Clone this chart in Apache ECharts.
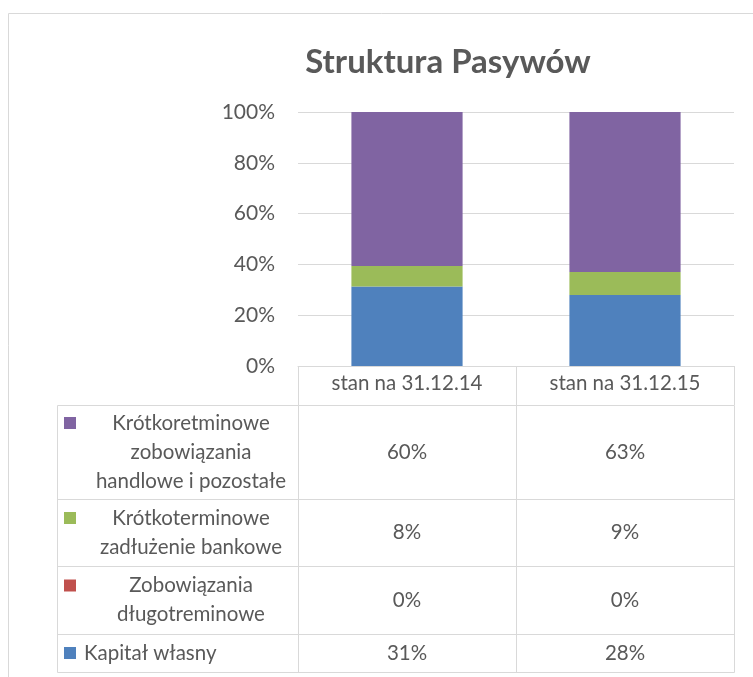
<!DOCTYPE html>
<html>
<head>
<meta charset="utf-8">
<script src="https://cdn.jsdelivr.net/npm/echarts@6/dist/echarts.min.js"></script>
<style>
  html, body { margin: 0; padding: 0; background: #fff; }
  #chart { width: 753px; height: 677px; }
</style>
</head>
<body>
<div id="chart"></div>
<script>
// Struktura Pasywów — 100% stacked bars with a data table underneath

const categories = ['stan na 31.12.14', 'stan na 31.12.15'];
const seriesNames = [
    'Kapitał własny',
    'Zobowiązania\ndługotreminowe',
    'Krótkoterminowe\nzadłużenie bankowe',
    'Krótkoretminowe\nzobowiązania\nhandlowe i pozostałe'
];
const kapitalWlasny = [31, 28];
const zobowiazaniaDlugo = [0, 0];
const zadluzenieBankowe = [8, 9];
const zobowiazaniaKrotko = [60, 63];
const yTicks = [0, 20, 40, 60, 80, 100];

const seriesValues = [kapitalWlasny, zobowiazaniaDlugo, zadluzenieBankowe, zobowiazaniaKrotko];
const colors = ['#4F81BD', '#C0504D', '#9BBB59', '#8064A2'];
const textColor = '#595959';
const borderColor = '#D9D9D9';
const font = 'Lato';
const fs = 20.5;

// totals per category, used to scale each stack to 100%
const totals = categories.map((c, i) => seriesValues.reduce((s, arr) => s + arr[i], 0));

const chart = echarts.init(document.getElementById('chart'));

const option = {
    animation: false,
    textStyle: { fontFamily: font },
    grid: { left: 298, right: 19, top: 112, bottom: 311 },
    xAxis: {
        type: 'category',
        data: categories,
        axisLine: { lineStyle: { color: borderColor } },
        axisTick: { show: true, length: 39, lineStyle: { color: borderColor } },
        axisLabel: { color: textColor, fontSize: fs, margin: 7, fontFamily: font }
    },
    yAxis: {
        type: 'value',
        min: yTicks[0],
        max: yTicks[yTicks.length - 1],
        interval: yTicks[1] - yTicks[0],
        axisLine: { show: false },
        axisTick: { show: false },
        axisLabel: { color: textColor, fontSize: fs + 0.5, margin: 23, formatter: '{value}%', fontFamily: font },
        splitLine: { lineStyle: { color: borderColor } }
    },
    series: seriesValues.map((arr, k) => ({
        type: 'bar',
        name: seriesNames[k],
        stack: 'total',
        barWidth: '51%',
        itemStyle: { color: colors[k] },
        data: arr.map((v, i) => v / totals[i] * 100)
    }))
};

chart.setOption(option);

// data table below the plot
const tableLeft = 57;
const rowHeights = [94, 67, 68, 38];
const lineH = 29;

const axisY = Math.round(chart.convertToPixel({ yAxisIndex: 0 }, 0));
const centers = categories.map((c, i) => chart.convertToPixel({ xAxisIndex: 0 }, i));
const band = centers[1] - centers[0];
const colEdges = [tableLeft, centers[0] - band / 2, centers[0] + band / 2, centers[1] + band / 2].map(Math.round);
const headerBottom = axisY + 39;

const graphic = [];
const line = (x1, y1, x2, y2) => graphic.push({
    type: 'line', silent: true,
    shape: { x1: x1 + 0.5, y1: y1 + 0.5, x2: x2 + 0.5, y2: y2 + 0.5 },
    style: { stroke: borderColor, lineWidth: 1 }
});

// outer chart frame (runs off the right and bottom edges)
graphic.push({
    type: 'rect', silent: true,
    shape: { x: 8.5, y: 13.5, width: 900, height: 900 },
    style: { fill: null, stroke: borderColor, lineWidth: 1 }
});

// title
graphic.push({
    type: 'text', silent: true,
    style: {
        text: 'Struktura Pasywów', x: 448, y: 62,
        fontFamily: font, fontSize: 33, fontWeight: 'bold',
        fill: textColor, align: 'center', verticalAlign: 'middle'
    }
});

let y = headerBottom;
const rowOrder = [3, 2, 1, 0];
rowOrder.forEach((k, r) => {
    const h = rowHeights[r];
    const nLines = seriesNames[k].split('\n').length;
    const mid = y + h / 2;
    const firstLine = mid - (nLines - 1) * lineH / 2;

    graphic.push({
        type: 'rect', silent: true,
        shape: { x: tableLeft + 7, y: firstLine - 6, width: 12, height: 12 },
        style: { fill: colors[k] }
    });
    const labelLeft = tableLeft + 27;
    graphic.push({
        type: 'text', silent: true,
        style: {
            text: seriesNames[k],
            x: nLines > 1 ? (labelLeft + colEdges[1]) / 2 : labelLeft,
            y: mid,
            fontFamily: font, fontSize: fs, lineHeight: lineH,
            fill: textColor, align: nLines > 1 ? 'center' : 'left', verticalAlign: 'middle'
        }
    });
    centers.forEach((cx, i) => {
        graphic.push({
            type: 'text', silent: true,
            style: {
                text: seriesValues[k][i] + '%', x: cx, y: mid,
                fontFamily: font, fontSize: fs,
                fill: textColor, align: 'center', verticalAlign: 'middle'
            }
        });
    });
    line(tableLeft, y, colEdges[3], y);
    y += h;
});
line(tableLeft, y, colEdges[3], y);
line(tableLeft, headerBottom, tableLeft, y);
colEdges.slice(1).forEach(x => line(x, headerBottom, x, y));

chart.setOption({ graphic: graphic });
window.addEventListener('resize', () => chart.resize());
</script>
</body>
</html>
